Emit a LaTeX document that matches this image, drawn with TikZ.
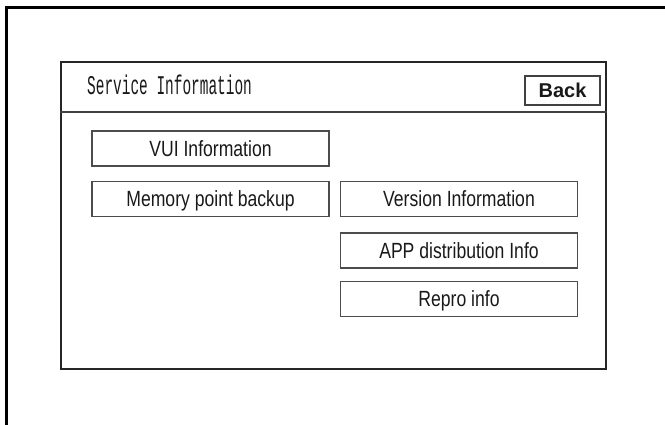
\documentclass[tikz,border=0pt]{standalone}
\usepackage{fontspec}
\setmainfont{Liberation Sans}
% condensed faces for the screen texts
\newfontfamily\titlefont[FakeStretch=0.535]{Liberation Mono}
\newfontfamily\btnfont[FakeStretch=0.8]{Liberation Sans}
\begin{document}
\begin{tikzpicture}[x=1pt,y=-1pt,
  outline/.style={line width=3pt,black,line join=miter},
  screen/.style={draw=black!85,line width=2.6pt,minimum width=545pt,
    minimum height=307pt,inner sep=0pt},
  sepline/.style={draw=black!75,line width=2pt},
  titletext/.style={inner sep=0pt,text=black!90,
    font=\titlefont\fontsize{27}{29}\selectfont},
  backbtn/.style={draw=black!75,line width=1.8pt,minimum width=75pt,
    minimum height=29pt,inner sep=0pt,text height=14.6pt,text depth=0pt,
    text=black!90,font=\bfseries\fontsize{20}{22}\selectfont},
  btn/.style={draw=black!70,line width=1.8pt,minimum width=237pt,
    minimum height=35pt,inner sep=0pt,text height=15.3pt,text depth=0pt,
    text=black!90,font=\btnfont\fontsize{22}{24}\selectfont}]
\useasboundingbox (0,0) rectangle (665,425);

% page corner rule
\draw[outline] (6.5,425) -- (6.5,7.5) -- (665,7.5);

% screen frame and title bar
\node[screen] (scr) at (333.5,215.5) {};
\coordinate (sep) at (0,112);
\draw[sepline] (scr.west |- sep) -- (scr.east |- sep);
\node[titletext,anchor=base west] (title) at (87,95) {Service Information};
\node[backbtn] (back) at (562.5,90.5) {Back};

% menu buttons
\node[btn] (vui) at (210.5,148.5) {VUI Information};
\node[btn] (mem) at (210.5,199) {Memory point backup};
\node[btn] (ver) at (459,199) {Version Information};
\node[btn] (app) at (459,250.5) {APP distribution Info};
\node[btn] (rep) at (459,299) {Repro info};
\end{tikzpicture}
\end{document}
